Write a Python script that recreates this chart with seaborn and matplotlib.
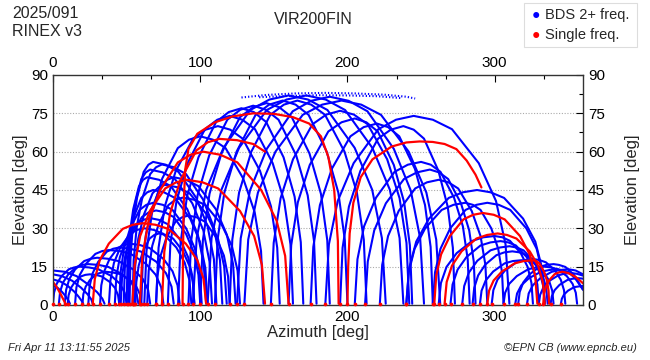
import matplotlib
matplotlib.use("Agg")
import matplotlib.pyplot as plt
import seaborn as sns
import pandas as pd
from matplotlib.ticker import MultipleLocator
from matplotlib.patches import Rectangle

# ---------------- data (azimuth [deg], elevation [deg]) ----------------
x_ticks = [0, 100, 200, 300]
y_ticks = [0, 15, 30, 45, 60, 75, 90]

left_low_tracks = [
    ([0, 8, 16, 24, 30, 33.5, 35], [13.5, 13, 11.3, 8, 5, 2.5, 0.5]),
    ([0, 6, 13, 19, 23.5, 26, 27], [12, 11.3, 9.5, 6.8, 4.2, 2.2, 0.5]),
    ([0, 5, 10, 14.5, 17.5, 19.5, 20.5], [10, 9.2, 7.5, 5.2, 3.2, 1.6, 0.5]),
    ([0, 3, 6, 8.5, 10.5, 11.5], [7.5, 6.8, 5.2, 3.5, 1.8, 0.5]),
    ([0, 0.7, 2.5, 5.8, 10.8, 14.4, 18, 24.4, 30.8, 39.8, 45.5, 48.7, 50],
     [0.5, 4.8, 8.3, 11.3, 14, 14.7, 15, 14.7, 14, 11.3, 8.3, 4.8, 0.5]),
    ([4, 4.8, 6.8, 10.4, 16, 20, 24, 30.8, 37.6, 47.1, 53.2, 56.6, 58],
     [0.5, 5.1, 8.8, 12, 14.9, 15.7, 16, 15.7, 14.9, 12, 8.8, 5.1, 0.5]),
    ([8, 8.9, 11.1, 15, 21.2, 25.6, 30, 37.2, 44.4, 54.5, 61, 64.6, 66],
     [0.5, 5.9, 10.2, 13.9, 17.2, 18.1, 18.5, 18.1, 17.2, 13.9, 10.2, 5.9, 0.5]),
    ([15, 15.9, 18.2, 22.4, 28.8, 33.4, 38, 45.4, 52.8, 63.2, 69.8, 73.5, 75],
     [0.5, 6.9, 11.8, 16.1, 20, 21.1, 21.5, 21.1, 20, 16.1, 11.8, 6.9, 0.5]),
    ([24, 24.8, 26.9, 30.7, 36.6, 40.8, 45, 52.4, 59.8, 70.2, 76.8, 80.5, 82],
     [0.5, 7.2, 12.4, 16.9, 20.9, 22, 22.5, 22, 20.9, 16.9, 12.4, 7.2, 0.5]),
    ([32, 32.8, 34.8, 38.4, 44, 48, 52, 58.8, 65.6, 75.1, 81.2, 84.6, 86],
     [0.5, 7.7, 13.2, 18, 22.3, 23.5, 24, 23.5, 22.3, 18, 13.2, 7.7, 0.5]),
    ([10, 10.6, 12.1, 14.8, 19, 22, 25, 29, 33, 38.6, 42.2, 44.2, 45],
     [0.5, 3.8, 6.6, 9, 11.2, 11.8, 12, 11.8, 11.2, 9, 6.6, 3.8, 0.5]),
    ([20, 20.6, 22.2, 25.1, 29.6, 32.8, 36, 40.8, 45.6, 52.3, 56.6, 59, 60],
     [0.5, 4.2, 7.2, 9.8, 12.1, 12.7, 13, 12.7, 12.1, 9.8, 7.2, 4.2, 0.5]),
]

mid_left_tracks = [
    ([38, 39, 41.4, 45.7, 52.4, 57.2, 62, 68.4, 74.8, 83.8, 89.5, 92.7, 94],
     [0.5, 9.6, 16.5, 22.5, 27.9, 29.4, 30, 29.4, 27.9, 22.5, 16.5, 9.6, 0.5]),
    ([42, 43, 45.4, 49.7, 56.4, 61.2, 66, 72, 78, 86.4, 91.8, 94.8, 96],
     [0.5, 10.9, 18.7, 25.5, 31.6, 33.3, 34, 33.3, 31.6, 25.5, 18.7, 10.9, 0.5]),
    ([45, 45.9, 48.2, 52.4, 58.8, 63.4, 68, 74.6, 81.2, 90.4, 96.4, 99.7, 101],
     [0.5, 12.8, 22, 30, 37.2, 39.2, 40, 39.2, 37.2, 30, 22, 12.8, 0.5]),
    ([46, 47, 49.4, 53.7, 60.4, 65.2, 70, 76, 82, 90.4, 95.8, 98.8, 100],
     [0.5, 11.8, 20.4, 27.8, 34.4, 36.3, 37, 36.3, 34.4, 27.8, 20.4, 11.8, 0.5]),
    ([48, 48.8, 50.8, 54.4, 60, 64, 68, 75.4, 82.8, 93.2, 99.8, 103.5, 105],
     [0.5, 14.4, 24.8, 33.8, 41.9, 44.1, 45, 44.1, 41.9, 33.8, 24.8, 14.4, 0.5]),
    ([50, 50.6, 52, 54.5, 58.4, 61.2, 64, 72, 80, 91.2, 98.4, 102.4, 104],
     [0.5, 16, 27.5, 37.5, 46.5, 49, 50, 49, 46.5, 37.5, 27.5, 16, 0.5]),
    ([51, 51.6, 53.1, 55.8, 60, 63, 66, 74.4, 82.8, 94.6, 102.1, 106.3, 108],
     [0.5, 17, 29.2, 39.8, 49.3, 51.9, 53, 51.9, 49.3, 39.8, 29.2, 17, 0.5]),
    ([52, 52.6, 54.2, 57.1, 61.6, 64.8, 68, 76.6, 85.2, 97.2, 105, 109.3, 111],
     [0.5, 17.9, 30.8, 42, 52.1, 54.9, 56, 54.9, 52.1, 42, 30.8, 17.9, 0.5]),
    ([54, 54.8, 56.8, 60.4, 66, 70, 74, 82.2, 90.4, 101.9, 109.3, 113.4, 115],
     [0.5, 17.6, 30.3, 41.3, 51.2, 53.9, 55, 53.9, 51.2, 41.3, 30.3, 17.6, 0.5]),
    ([55, 55.8, 57.9, 61.7, 67.6, 71.8, 76, 84.4, 92.8, 104.6, 112.1, 116.3, 118],
     [0.5, 15, 25.9, 35.3, 43.7, 46.1, 47, 46.1, 43.7, 35.3, 25.9, 15, 0.5]),
    ([60, 60.9, 63.1, 67, 73.2, 77.6, 82, 90.4, 98.8, 110.6, 118.1, 122.3, 124],
     [0.5, 16, 27.5, 37.5, 46.5, 49, 50, 49, 46.5, 37.5, 27.5, 16, 0.5]),
    ([64, 65, 67.4, 71.7, 78.4, 83.2, 88, 95.8, 103.6, 114.5, 121.5, 125.4, 127],
     [0.5, 13.4, 23.1, 31.5, 39.1, 41.2, 42, 41.2, 39.1, 31.5, 23.1, 13.4, 0.5]),
    ([70, 70.9, 73.1, 77, 83.2, 87.6, 92, 97.6, 103.2, 111, 116.1, 118.9, 120],
     [0.5, 11.2, 19.3, 26.3, 32.6, 34.3, 35, 34.3, 32.6, 26.3, 19.3, 11.2, 0.5]),
    ([56, 56.6, 58.2, 61.1, 65.6, 68.8, 72, 76.8, 81.6, 88.3, 92.6, 95, 96],
     [0.5, 9, 15.4, 21, 26, 27.4, 28, 27.4, 26, 21, 15.4, 9, 0.5]),
]

central_tall_tracks = [
    ([62, 63.5, 67.3, 74.2, 84.8, 92.4, 100, 108.6, 117.2, 129.2, 137, 141.3, 143],
     [0.5, 21.1, 36.3, 49.5, 61.4, 64.7, 66, 64.7, 61.4, 49.5, 36.3, 21.1, 0.5]),
    ([70, 71.7, 75.9, 83.4, 95.2, 103.6, 112, 120.4, 128.8, 140.6, 148.1, 152.3, 154],
     [0.5, 22.4, 38.5, 52.5, 65.1, 68.6, 70, 68.6, 65.1, 52.5, 38.5, 22.4, 0.5]),
    ([78, 79.7, 83.9, 91.4, 103.2, 111.6, 120, 128.6, 137.2, 149.2, 157, 161.3, 163],
     [0.5, 23.7, 40.7, 55.5, 68.8, 72.5, 74, 72.5, 68.8, 55.5, 40.7, 23.7, 0.5]),
    ([85, 86.7, 91, 98.8, 110.8, 119.4, 128, 136.4, 144.8, 156.6, 164.1, 168.3, 170],
     [0.5, 24.6, 42.4, 57.8, 71.6, 75.5, 77, 75.5, 71.6, 57.8, 42.4, 24.6, 0.5]),
    ([92, 93.8, 98.2, 106.1, 118.4, 127.2, 136, 144.6, 153.2, 165.2, 173, 177.3, 179],
     [0.5, 25, 42.9, 58.5, 72.5, 76.4, 78, 76.4, 72.5, 58.5, 42.9, 25, 0.5]),
    ([100, 101.8, 106.3, 114.4, 127, 136, 145, 153.6, 162.2, 174.2, 182, 186.3, 188],
     [0.5, 25.3, 43.5, 59.3, 73.5, 77.4, 79, 77.4, 73.5, 59.3, 43.5, 25.3, 0.5]),
    ([110, 111.8, 116.4, 124.7, 137.6, 146.8, 156, 164.8, 173.6, 185.9, 193.8, 198.2, 200],
     [0.5, 25.6, 44, 60, 74.4, 78.4, 80, 78.4, 74.4, 60, 44, 25.6, 0.5]),
    ([120, 121.8, 126.4, 134.7, 147.6, 156.8, 166, 175.4, 184.8, 198, 206.4, 211.1, 213],
     [0.5, 25.6, 44, 60, 74.4, 78.4, 80, 78.4, 74.4, 60, 44, 25.6, 0.5]),
    ([95, 97.6, 104.1, 115.8, 134, 147, 160, 173.2, 186.4, 204.9, 216.8, 223.4, 226],
     [0.5, 26.2, 45.1, 61.5, 76.3, 80.4, 82, 80.4, 76.3, 61.5, 45.1, 26.2, 0.5]),
    ([105, 107.7, 114.4, 126.4, 145.2, 158.6, 172, 185.2, 198.4, 216.9, 228.8, 235.4, 238],
     [0.5, 26.2, 45.1, 61.5, 76.3, 80.4, 82, 80.4, 76.3, 61.5, 45.1, 26.2, 0.5]),
    ([125, 127.5, 133.8, 145.2, 162.8, 175.4, 188, 200.8, 213.6, 231.5, 243, 249.4, 252],
     [0.5, 26.1, 44.8, 61.1, 75.8, 79.9, 81.5, 79.9, 75.8, 61.1, 44.8, 26.1, 0.5]),
    ([130, 132.6, 139.2, 151.1, 169.6, 182.8, 196, 209.4, 222.8, 241.6, 253.6, 260.3, 263],
     [0.5, 25.6, 44, 60, 74.4, 78.4, 80, 78.4, 74.4, 60, 44, 25.6, 0.5]),
]

right_tall_tracks = [
    ([148, 149.9, 154.6, 163, 176.2, 185.6, 195, 204.4, 213.8, 227, 235.4, 240.1, 242],
     [0.5, 24.3, 41.8, 57, 70.7, 74.5, 76, 74.5, 70.7, 57, 41.8, 24.3, 0.5]),
    ([160, 161.8, 166.3, 174.4, 187, 196, 205, 212.8, 220.6, 231.5, 238.5, 242.4, 244],
     [0.5, 23.4, 40.2, 54.8, 67.9, 71.5, 73, 71.5, 67.9, 54.8, 40.2, 23.4, 0.5]),
    ([175, 176.8, 181.3, 189.4, 202, 211, 220, 227.6, 235.2, 245.8, 252.7, 256.5, 258],
     [0.5, 22.7, 39.1, 53.3, 66, 69.6, 71, 69.6, 66, 53.3, 39.1, 22.7, 0.5]),
    ([195, 196.7, 201, 208.8, 220.8, 229.4, 238, 245, 252, 261.8, 268.1, 271.6, 273],
     [0.5, 22.4, 38.5, 52.5, 65.1, 68.6, 70, 68.6, 65.1, 52.5, 38.5, 22.4, 0.5]),
    ([205, 206.8, 211.3, 219.4, 232, 241, 250, 256.6, 263.2, 272.4, 278.4, 281.7, 283],
     [0.5, 17.9, 30.8, 42, 52.1, 54.9, 56, 54.9, 52.1, 42, 30.8, 17.9, 0.5]),
    ([212, 213.8, 218.2, 226.1, 238.4, 247.2, 256, 262.2, 268.4, 277.1, 282.7, 285.8, 287],
     [0.5, 17, 29.2, 39.8, 49.3, 51.9, 53, 51.9, 49.3, 39.8, 29.2, 17, 0.5]),
    ([222, 223.6, 227.6, 234.8, 246, 254, 262, 268.6, 275.2, 284.4, 290.4, 293.7, 295],
     [0.5, 15.7, 27, 36.8, 45.6, 48, 49, 48, 45.6, 36.8, 27, 15.7, 0.5]),
    ([240, 241.6, 245.6, 252.8, 264, 272, 280, 285.2, 290.4, 297.7, 302.4, 305, 306],
     [0.5, 12.8, 22, 30, 37.2, 39.2, 40, 39.2, 37.2, 30, 22, 12.8, 0.5]),
    ([240, 241.9, 246.7, 255.4, 268.8, 278.4, 288, 297.2, 306.4, 319.3, 327.6, 332.2, 334],
     [0.5, 14.4, 24.8, 33.8, 41.9, 44.1, 45, 44.1, 41.9, 33.8, 24.8, 14.4, 0.5]),
    ([258, 259.5, 263.2, 269.8, 280.2, 287.6, 295, 302.8, 310.6, 321.5, 328.5, 332.4, 334],
     [0.5, 12.8, 22, 30, 37.2, 39.2, 40, 39.2, 37.2, 30, 22, 12.8, 0.5]),
    ([185, 187.4, 193.4, 204.2, 221, 233, 245, 258, 271, 289.2, 300.9, 307.4, 310],
     [0.5, 23.7, 40.7, 55.5, 68.8, 72.5, 74, 72.5, 68.8, 55.5, 40.7, 23.7, 0.5]),
]

right_low_tracks = [
    ([262, 263.5, 267.3, 274.2, 284.8, 292.4, 300, 305.2, 310.4, 317.7, 322.4, 325, 326],
     [0.5, 8.6, 14.9, 20.3, 25.1, 26.5, 27, 26.5, 25.1, 20.3, 14.9, 8.6, 0.5]),
    ([270, 271.4, 274.8, 280.9, 290.4, 297.2, 304, 309.2, 314.4, 321.7, 326.4, 329, 330],
     [0.5, 8, 13.8, 18.8, 23.3, 24.5, 25, 24.5, 23.3, 18.8, 13.8, 8, 0.5]),
    ([278, 279.3, 282.5, 288.2, 297.2, 303.6, 310, 314.8, 319.6, 326.3, 330.6, 333, 334],
     [0.5, 7.4, 12.7, 17.3, 21.4, 22.5, 23, 22.5, 21.4, 17.3, 12.7, 7.4, 0.5]),
    ([285, 286.1, 288.8, 293.6, 301.2, 306.6, 312, 316.8, 321.6, 328.3, 332.6, 335, 336],
     [0.5, 6.7, 11.6, 15.8, 19.5, 20.6, 21, 20.6, 19.5, 15.8, 11.6, 6.7, 0.5]),
    ([290, 291.1, 293.9, 299, 306.8, 312.4, 318, 322.4, 326.8, 333, 336.9, 339.1, 340],
     [0.5, 5.6, 9.6, 13.1, 16.3, 17.2, 17.5, 17.2, 16.3, 13.1, 9.6, 5.6, 0.5]),
    ([298, 299.1, 301.9, 307, 314.8, 320.4, 326, 330.4, 334.8, 341, 344.9, 347.1, 348],
     [0.5, 5.8, 9.9, 13.5, 16.7, 17.6, 18, 17.6, 16.7, 13.5, 9.9, 5.8, 0.5]),
    ([306, 307.1, 309.9, 315, 322.8, 328.4, 334, 338.4, 342.8, 349, 352.9, 355.1, 356],
     [0.5, 4.8, 8.3, 11.3, 14, 14.7, 15, 14.7, 14, 11.3, 8.3, 4.8, 0.5]),
    ([314, 315.2, 318.1, 323.3, 331.4, 337.2, 343, 349.8, 354.6, 360],
     [0.5, 4.5, 7.7, 10.5, 13, 13.7, 14, 13, 10.5, 6]),
    ([316, 317, 319.4, 323.7, 330.4, 335.2, 340, 343.6, 348, 353.6, 360],
     [0.5, 5.1, 8.8, 12, 14.9, 15.7, 16, 15.7, 14.9, 12, 6]),
    ([322, 323.1, 325.9, 331, 338.8, 344.4, 350, 355, 360],
     [0.5, 4.5, 7.7, 10.5, 13, 13.7, 14, 13.5, 12]),
    ([330, 330.9, 333.1, 337, 343.2, 347.6, 352, 356, 360],
     [0.5, 4, 6.9, 9.4, 11.6, 12.3, 12.5, 12.2, 11.5]),
    ([338, 338.8, 340.7, 344.1, 349.4, 353.2, 357, 360],
     [0.5, 3.4, 5.8, 7.9, 9.8, 10.3, 10.5, 10.3]),
    ([345, 345.6, 347.1, 349.8, 354, 360], [0.5, 2.4, 4.1, 5.6, 7, 7.5]),
]

zenith_dotted_tracks = [
    ([128, 145, 165, 185, 205, 225, 240, 246], [81.2, 82.2, 82.8, 83, 82.8, 82.3, 81.5, 80.8]),
    ([140, 160, 180, 200, 220, 236], [81.3, 81.8, 82.1, 82, 81.7, 81]),
]

single_freq_tracks = [
    ([0, 2.5, 5, 7, 8.5], [9, 7, 4.5, 2.2, 0.5]),
    ([333, 333.5, 334.8, 337.2, 340.8, 343.4, 346, 350, 355, 360],
     [0.5, 4.2, 7.2, 9.8, 12.1, 12.7, 13, 12.5, 11, 8.5]),
    ([27, 28.4, 31.8, 37.9, 47.4, 54.2, 61, 69.6, 78.2, 90.2, 98, 102.3, 104],
     [0.5, 10.2, 17.6, 24, 29.8, 31.4, 32, 31.4, 29.8, 24, 17.6, 10.2, 0.5]),
    ([54, 55.5, 59.2, 65.8, 76.2, 83.6, 91, 101.6, 112.2, 127, 136.6, 141.9, 144],
     [0.5, 15.7, 27, 36.8, 45.6, 48, 49, 48, 45.6, 36.8, 27, 15.7, 0.5]),
    ([59, 60.7, 65, 72.8, 84.8, 93.4, 102, 113.6, 125.2, 141.4, 151.9, 157.7, 160],
     [0.5, 19.2, 33, 45, 55.8, 58.8, 60, 58.8, 55.8, 45, 33, 19.2, 0.5]),
    ([74, 75.6, 79.5, 86.5, 97.4, 105.2, 113, 125, 136, 144],
     [0.5, 20.8, 35.8, 48.8, 60.5, 63.7, 65, 64.5, 63, 60]),
    ([88, 88.3, 88.8, 89.8, 92, 98, 110, 122, 136, 150, 163, 174, 182, 187, 191, 193.5, 194],
     [0.5, 20, 40, 53, 61, 67, 71.5, 73.8, 75, 74.8, 73.5, 71, 66, 58, 45, 25, 0.5]),
    ([200, 200.5, 201.5, 204, 209, 217, 230, 240, 249, 258, 266, 274, 281, 287, 291],
     [0.5, 15, 28, 40, 50, 57, 62, 63.6, 64, 63.8, 63, 61, 56.5, 51, 46]),
    ([259, 260.3, 263.6, 269.6, 278.8, 285.4, 292, 299.4, 306.8, 317.2, 323.8, 327.5, 329],
     [0.5, 11.5, 19.8, 27, 33.5, 35.3, 36, 35.3, 33.5, 27, 19.8, 11.5, 0.5]),
    ([266, 267.4, 271, 277.5, 287.6, 294.8, 302, 308.4, 314.8, 323.8, 329.5, 332.7, 334],
     [0.5, 9, 15.4, 21, 26, 27.4, 28, 27.4, 26, 21, 15.4, 9, 0.5]),
    ([295, 296.2, 299.3, 304.9, 313.6, 319.8, 326, 328.2, 330.4, 333.5, 335.5, 336.6, 337],
     [0.5, 5.6, 9.6, 13.1, 16.3, 17.2, 17.5, 17.2, 16.3, 13.1, 9.6, 5.6, 0.5]),
]

# ---------------- long tables ----------------
def to_frame(groups, kind):
    rows = []
    n = 0
    for group in groups:
        for az, el in group:
            for i, (a, e) in enumerate(zip(az, el)):
                rows.append({"track": f"{kind}{n}", "az": a, "el": e, "idx": i, "kind": kind})
            n += 1
    return pd.DataFrame(rows)

blue_df = to_frame([left_low_tracks, mid_left_tracks, central_tall_tracks,
                    right_tall_tracks, right_low_tracks], "blue")
red_df = to_frame([single_freq_tracks], "red")
dot_df = to_frame([zenith_dotted_tracks], "dot")
start_df = pd.concat([blue_df, red_df])
start_df = start_df[(start_df["idx"] == 0) & (start_df["el"] <= 1)]

# ---------------- plot ----------------
sns.set_theme(style="white")
plt.rcParams["font.family"] = ["Liberation Sans", "DejaVu Sans"]

fig = plt.figure(figsize=(6.5, 3.6), dpi=100)
ax = fig.add_axes([53 / 650, 55 / 360, 530 / 650, 230 / 360])

for y in [15, 30, 45, 60, 75]:
    ax.axhline(y, color="#aaaaaa", lw=0.8, ls=(0, (1, 1.5)), zorder=0)

sns.lineplot(data=blue_df, x="az", y="el", units="track", estimator=None, sort=False,
             color="#0000ff", lw=1.5, ax=ax, legend=False)
sns.lineplot(data=dot_df, x="az", y="el", units="track", estimator=None, sort=False,
             color="#0000ff", lw=1.5, ls=(0, (0.6, 1.0)), ax=ax, legend=False)
sns.lineplot(data=red_df, x="az", y="el", units="track", estimator=None, sort=False,
             color="#ff0000", lw=1.6, ax=ax, legend=False)
sns.scatterplot(data=start_df, x="az", y="el", color="#ff0000", s=7, linewidth=0,
                ax=ax, legend=False, zorder=5, clip_on=False)

ax.set_xlim(0, 360)
ax.set_ylim(0, 90)
ax.set_xticks(x_ticks)
ax.set_yticks(y_ticks)
ax.xaxis.set_minor_locator(MultipleLocator(100 / 3))
ax.yaxis.set_minor_locator(MultipleLocator(7.5))
ax.tick_params(axis="both", which="both", direction="in", top=True, right=True,
               labeltop=True, labelright=True, colors="black", labelsize=11)
ax.tick_params(which="major", length=5, width=0.8)
ax.tick_params(which="minor", length=3, width=0.8)
for s in ax.spines.values():
    s.set_color("#333333")
    s.set_linewidth(1.0)
ax.set_xlabel("Azimuth [deg]", fontsize=12, labelpad=1)
ax.set_ylabel("Elevation [deg]", fontsize=12, labelpad=2)
ax2 = ax.secondary_yaxis("right")
ax2.set_yticks([])
ax2.tick_params(length=0)
ax2.set_ylabel("Elevation [deg]", fontsize=12, labelpad=30)
ax2.spines["right"].set_visible(False)

fig.text(12 / 650, 1 - 14 / 360, "2025/091", fontsize=11.5, va="center", ha="left")
fig.text(12 / 650, 1 - 32 / 360, "RINEX v3", fontsize=11.5, va="center", ha="left")
fig.text(313 / 650, 1 - 20 / 360, "VIR200FIN", fontsize=11.5, va="center", ha="center")

fig.patches.append(Rectangle((524 / 650, 1 - 47 / 360), 113 / 650, 44 / 360,
                             transform=fig.transFigure, fill=False, ec="#dddddd", lw=0.8))
fig.text(536 / 650, 1 - 15 / 360, "\u25CF", color="#0000ff", fontsize=10, va="center", ha="center")
fig.text(536 / 650, 1 - 35 / 360, "\u25CF", color="#ff0000", fontsize=10, va="center", ha="center")
fig.text(545 / 650, 1 - 15 / 360, "BDS 2+ freq.", fontsize=10.5, va="center", ha="left")
fig.text(545 / 650, 1 - 35 / 360, "Single freq.", fontsize=10.5, va="center", ha="left")

fig.text(8 / 650, 1 - 348 / 360, "Fri Apr 11 13:11:55 2025", fontsize=8, style="italic",
         va="center", ha="left")
fig.text(637 / 650, 1 - 348 / 360, "\u00A9EPN CB (www.epncb.eu)", fontsize=8, style="italic",
         va="center", ha="right")

fig.savefig("out.png", dpi=100)
